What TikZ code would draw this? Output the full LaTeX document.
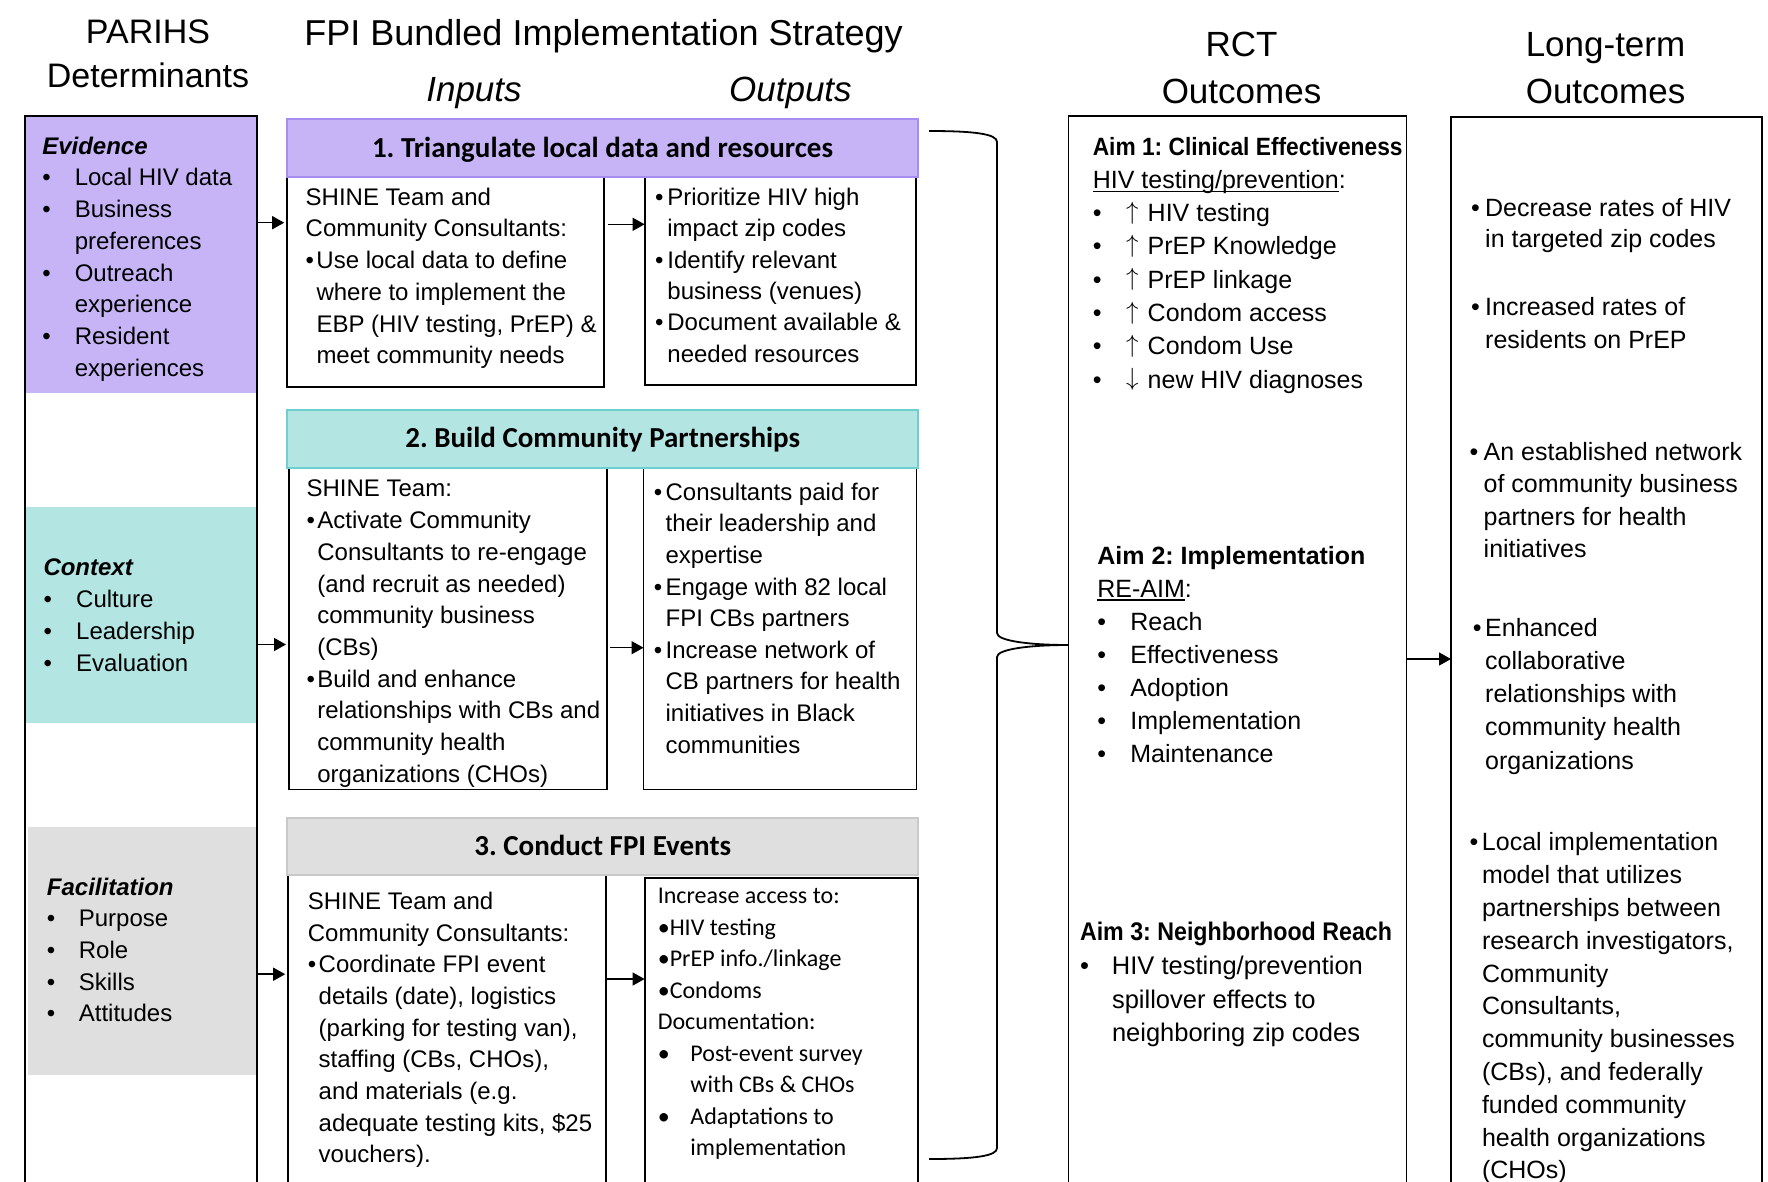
\documentclass[tikz,border=0pt]{standalone}
\usepackage{fontspec}
\usetikzlibrary{arrows.meta}
\setmainfont{Liberation Sans}
\newfontfamily\fA{Liberation Sans}
\newfontfamily\fN[FakeStretch=0.91]{Liberation Sans}
\newfontfamily\fC{Carlito}
\definecolor{evid}{HTML}{C6B4F7}
\definecolor{evidB}{HTML}{A88CF0}
\definecolor{ctx}{HTML}{B3E5E3}
\definecolor{ctxB}{HTML}{6FCFD0}
\definecolor{fac}{HTML}{DFDFDF}
\definecolor{facB}{HTML}{C9C9C9}
\newsavebox\myulbox
\newcommand\myul[1]{\sbox\myulbox{#1}\rlap{\rule[-4pt]{\wd\myulbox}{1.8pt}}\usebox\myulbox}
\newcommand\mybul[2]{\makebox[#1][l]{•}#2}
\newcommand\mycnt[2]{\hspace*{#1}#2}
\newcommand\upa{\makebox[21.5pt][l]{\raisebox{2.5pt}{$\uparrow$}}}
\newcommand\dna{\makebox[21.5pt][l]{\raisebox{2.5pt}{$\downarrow$}}}
\begin{document}
\frenchspacing
\begin{tikzpicture}[x=1pt,y=-1pt]
\tikzset{
  frame/.style={draw=black,line width=1.8pt,anchor=north west,inner sep=0pt,outer sep=0pt},
  hdrbox/.style={line width=2pt,anchor=north west,inner sep=0pt,outer sep=0pt,
     font=\fC\bfseries\fontsize{29}{34}\selectfont,text height=18.7pt,text depth=0pt},
  body/.style={anchor=north west,inner sep=0pt,align=left},
  ttl/.style={anchor=base,inner sep=0pt},
  arr/.style={line width=1.5pt,-{Triangle[length=12pt,width=13pt]}},
}
\clip (0,0) rectangle (1768,1181);
\fill[white] (0,0) rectangle (1768,1181);

% ---------- titles
\node[ttl,font=\fA\fontsize{34}{38}\selectfont] (tParihs) at (148,43.3) {PARIHS};
\node[ttl,font=\fA\fontsize{34}{38}\selectfont] (tDet) at (148,87.3) {Determinants};
\node[ttl,font=\fA\fontsize{36}{40}\selectfont] (tFPI) at (603.6,45) {FPI Bundled Implementation Strategy};
\node[ttl,font=\fA\itshape\fontsize{35}{40}\selectfont] (tIn) at (474,101) {Inputs};
\node[ttl,font=\fA\itshape\fontsize{35}{40}\selectfont] (tOut) at (790.4,101) {Outputs};
\node[ttl,font=\fA\fontsize{35}{40}\selectfont] (tRCTa) at (1241.5,56.7) {RCT};
\node[ttl,font=\fA\fontsize{35}{40}\selectfont] (tRCTb) at (1241.5,103) {Outcomes};
\node[ttl,font=\fA\fontsize{35}{40}\selectfont] (tLTa) at (1605.5,56.7) {Long-term};
\node[ttl,font=\fA\fontsize{35}{40}\selectfont] (tLTb) at (1605.5,103) {Outcomes};

% ---------- left column
\fill[evid] (25,116) rectangle (257,392.6);
\fill[ctx] (25,507) rectangle (257,722.7);
\fill[fac] (28.3,826.8) rectangle (257,1074.8);
\node[frame,minimum width=232pt,minimum height=1100pt] (lc) at (25,116) {};

\node[body,font=\fA\fontsize{24}{31.7}\selectfont] (tEv) at (42.1,136.7)
 {\textbf{\textit{Evidence}}\\
  \mybul{32.5pt}{Local HIV data}\\
  \mybul{32.5pt}{Business}\\
  \mycnt{32.5pt}{preferences}\\
  \mybul{32.5pt}{Outreach}\\
  \mycnt{32.5pt}{experience}\\
  \mybul{32.5pt}{Resident}\\
  \mycnt{32.5pt}{experiences}};

\node[body,font=\fA\fontsize{24}{32}\selectfont] (tCx) at (43.3,558.6)
 {\textbf{\textit{Context}}\\
  \mybul{32.7pt}{Culture}\\
  \mybul{32.7pt}{Leadership}\\
  \mybul{32.7pt}{Evaluation}};

\node[body,font=\fA\fontsize{24}{31.7}\selectfont] (tFa) at (46.7,877.5)
 {\textbf{\textit{Facilitation}}\\
  \mybul{32pt}{Purpose}\\
  \mybul{32pt}{Role}\\
  \mybul{32pt}{Skills}\\
  \mybul{32pt}{Attitudes}};

% ---------- strategy boxes
\node[frame,minimum width=317pt,minimum height=210pt] (in1) at (287.2,177.2) {};
\node[frame,minimum width=271pt,minimum height=207.8pt] (out1) at (644.6,177.2) {};
\node[hdrbox,draw=evidB,fill=evid,minimum width=630.6pt,minimum height=58pt] (h1) at (287.2,119.3)
 {1. Triangulate local data and resources};

\node[frame,minimum width=318pt,minimum height=322pt] (in2) at (289,467.5) {};
\node[frame,minimum width=273pt,minimum height=322pt] (out2) at (643.5,467.5) {};
\node[hdrbox,draw=ctxB,fill=ctx,minimum width=631pt,minimum height=58pt] (h2) at (287.2,409.5)
 {2. Build Community Partnerships};

\node[frame,minimum width=317.5pt,minimum height=330pt] (in3) at (288.2,875) {};
\node[frame,minimum width=273pt,minimum height=330pt] (out3) at (644.6,878.3) {};
\node[hdrbox,draw=facB,fill=fac,minimum width=631pt,minimum height=57.5pt] (h3) at (287.2,817.5)
 {3. Conduct FPI Events};

% box texts
\node[body,font=\fA\fontsize{24}{31.7}\selectfont] (tIn1) at (305.5,187.7)
 {SHINE Team and\\
  Community Consultants:\\
  \mybul{10.8pt}{Use local data to define}\\
  \mycnt{10.8pt}{where to implement the}\\
  \mycnt{10.8pt}{EBP (HIV testing, PrEP) \&}\\
  \mycnt{10.8pt}{meet community needs}};

\node[body,font=\fA\fontsize{24}{31.4}\selectfont] (tOut1) at (655,187.7)
 {\mybul{12.2pt}{Prioritize HIV high}\\
  \mycnt{12.2pt}{impact zip codes}\\
  \mybul{12.2pt}{Identify relevant}\\
  \mycnt{12.2pt}{business (venues)}\\
  \mybul{12.2pt}{Document available \&}\\
  \mycnt{12.2pt}{needed resources}};

\node[body,font=\fA\fontsize{24}{31.7}\selectfont] (tIn2) at (306.4,480)
 {SHINE Team:\\
  \mybul{10.8pt}{Activate Community}\\
  \mycnt{10.8pt}{Consultants to re-engage}\\
  \mycnt{10.8pt}{(and recruit as needed)}\\
  \mycnt{10.8pt}{community business}\\
  \mycnt{10.8pt}{(CBs)}\\
  \mybul{10.8pt}{Build and enhance}\\
  \mycnt{10.8pt}{relationships with CBs and}\\
  \mycnt{10.8pt}{community health}\\
  \mycnt{10.8pt}{organizations (CHOs)}};

\node[body,font=\fA\fontsize{24}{31.6}\selectfont] (tOut2) at (653.6,482.7)
 {\mybul{11.8pt}{Consultants paid for}\\
  \mycnt{11.8pt}{their leadership and}\\
  \mycnt{11.8pt}{expertise}\\
  \mybul{11.8pt}{Engage with 82 local}\\
  \mycnt{11.8pt}{FPI CBs partners}\\
  \mybul{11.8pt}{Increase network of}\\
  \mycnt{11.8pt}{CB partners for health}\\
  \mycnt{11.8pt}{initiatives in Black}\\
  \mycnt{11.8pt}{communities}};

\node[body,font=\fA\fontsize{24}{31.7}\selectfont] (tIn3) at (307.7,891.7)
 {SHINE Team and\\
  Community Consultants:\\
  \mybul{10.8pt}{Coordinate FPI event}\\
  \mycnt{10.8pt}{details (date), logistics}\\
  \mycnt{10.8pt}{(parking for testing van),}\\
  \mycnt{10.8pt}{staffing (CBs, CHOs),}\\
  \mycnt{10.8pt}{and materials (e.g.}\\
  \mycnt{10.8pt}{adequate testing kits, \$25}\\
  \mycnt{10.8pt}{vouchers).}};

\node[body,font=\fC\fontsize{24}{31.5}\selectfont] (tOut3) at (657.6,888.3)
 {Increase access to:\\
  \mybul{12pt}{HIV testing}\\
  \mybul{12pt}{PrEP info./linkage}\\
  \mybul{12pt}{Condoms}\\
  Documentation:\\
  \mybul{32.6pt}{Post-event survey}\\
  \mycnt{32.6pt}{with CBs \& CHOs}\\
  \mybul{32.6pt}{Adaptations to}\\
  \mycnt{32.6pt}{implementation}};

% ---------- outcome boxes
\node[frame,minimum width=338pt,minimum height=1100pt] (rct) at (1068.5,116.3) {};
\node[frame,minimum width=311pt,minimum height=1100pt] (lt) at (1451,116.7) {};

\node[body,font=\fA\fontsize{25}{33.3}\selectfont] (tAim1) at (1092.6,136.7)
 {{\fN\bfseries Aim 1: Clinical Effectiveness}\\
  \myul{HIV testing/prevention}:\\
  \mybul{33.4pt}{\upa HIV testing}\\
  \mybul{33.4pt}{\upa PrEP Knowledge}\\
  \mybul{33.4pt}{\upa PrEP linkage}\\
  \mybul{33.4pt}{\upa Condom access}\\
  \mybul{33.4pt}{\upa Condom Use}\\
  \mybul{33.4pt}{\dna new HIV diagnoses}};

\node[body,font=\fA\fontsize{25}{33.1}\selectfont] (tAim2) at (1097.2,545.8)
 {\textbf{Aim 2: Implementation}\\
  \myul{RE-AIM}:\\
  \mybul{33pt}{Reach}\\
  \mybul{33pt}{Effectiveness}\\
  \mybul{33pt}{Adoption}\\
  \mybul{33pt}{Implementation}\\
  \mybul{33pt}{Maintenance}};

\node[body,font=\fA\fontsize{25.5}{33.7}\selectfont] (tAim3) at (1079.8,922.2)
 {{\fN\bfseries Aim 3: Neighborhood Reach}\\
  \mybul{32pt}{HIV testing/prevention}\\
  \mycnt{32pt}{spillover effects to}\\
  \mycnt{32pt}{neighboring zip codes}};

\node[body,font=\fA\fontsize{25}{31}\selectfont] (tLT1) at (1471,198.5)
 {\mybul{14pt}{Decrease rates of HIV}\\
  \mycnt{14pt}{in targeted zip codes}};
\node[body,font=\fA\fontsize{25}{33}\selectfont] (tLT2) at (1471,296.8)
 {\mybul{14pt}{Increased rates of}\\
  \mycnt{14pt}{residents on PrEP}};
\node[body,font=\fA\fontsize{25}{32.6}\selectfont] (tLT3) at (1469.5,441.8)
 {\mybul{14pt}{An established network}\\
  \mycnt{14pt}{of community business}\\
  \mycnt{14pt}{partners for health}\\
  \mycnt{14pt}{initiatives}};
\node[body,font=\fA\fontsize{25}{33.2}\selectfont] (tLT4) at (1472.7,618)
 {\mybul{12.3pt}{Enhanced}\\
  \mycnt{12.3pt}{collaborative}\\
  \mycnt{12.3pt}{relationships with}\\
  \mycnt{12.3pt}{community health}\\
  \mycnt{12.3pt}{organizations}};
\node[body,font=\fA\fontsize{25}{32.8}\selectfont] (tLT5) at (1469.5,832.5)
 {\mybul{12.3pt}{Local implementation}\\
  \mycnt{12.3pt}{model that utilizes}\\
  \mycnt{12.3pt}{partnerships between}\\
  \mycnt{12.3pt}{research investigators,}\\
  \mycnt{12.3pt}{Community}\\
  \mycnt{12.3pt}{Consultants,}\\
  \mycnt{12.3pt}{community businesses}\\
  \mycnt{12.3pt}{(CBs), and federally}\\
  \mycnt{12.3pt}{funded community}\\
  \mycnt{12.3pt}{health organizations}\\
  \mycnt{12.3pt}{(CHOs)}};

% ---------- connectors
\draw[arr,shorten >=3pt] (lc.east |- 0,222.7) -- (in1.west |- 0,222.7);
\draw[arr,shorten >=3pt] (lc.east |- 0,644.5) -- (in2.west |- 0,644.5);
\draw[arr,shorten >=3pt] (lc.east |- 0,974.2) -- (in3.west |- 0,974.2);
\draw[arr,shorten <=4pt] (in1.east |- 0,224.3) -- (out1.west |- 0,224.3);
\draw[arr,shorten <=3pt] (in2.east |- 0,647.7) -- (out2.west |- 0,647.7);
\draw[arr] (in3.east |- 0,979) -- (out3.west |- 0,979);
\draw[arr] (rct.east |- 0,659) -- (lt.west |- 0,659);

% brace
\coordinate (btip) at (rct.west |- 0,645);
\draw[line width=1.8pt] (929,131) .. controls (975,131) and (997,134) .. (997,142)
  -- (997,633) .. controls (997,641) and (1030,645) .. (btip)
  .. controls (1030,645) and (997,649) .. (997,657)
  -- (997,1148) .. controls (997,1156) and (975,1159) .. (929,1159);
\end{tikzpicture}
\end{document}
